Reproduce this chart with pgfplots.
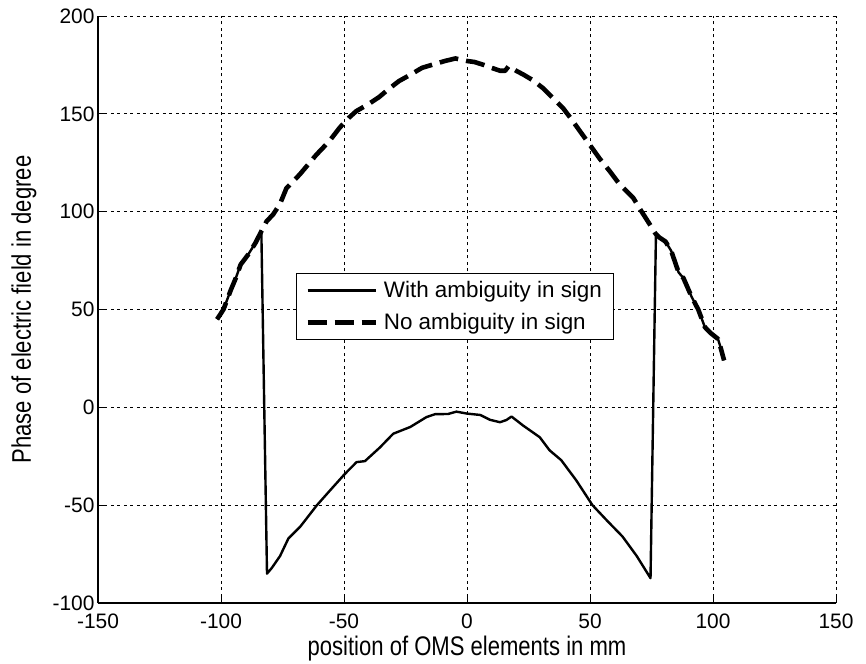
\documentclass[border=0pt]{standalone}
\usepackage{pgfplots}
\pgfplotsset{compat=1.18}
\usepackage{fontspec}
\setmainfont{Liberation Sans}
\newfontfamily\labelfont{Liberation Sans}[FakeStretch=0.82]
\begin{document}
\begin{tikzpicture}
\begin{axis}[
  scale only axis,
  width=738bp, height=587bp,
  xmin=-150, xmax=150, ymin=-100, ymax=200,
  xtick={-150,-100,...,150},
  ytick={-100,-50,...,200},
  axis x line*=bottom, axis y line*=left,
  axis line style={line width=1.1bp, -},
  tick align=inside,
  major tick length=6bp,
  tick style={line width=0.9bp, black},
  grid=major,
  major grid style={dash pattern=on 3bp off 3.5bp, line width=0.8bp, black},
  /pgf/number format/assume math mode=true,
  ticklabel style={font=\fontsize{21}{24}\selectfont},
  xticklabel style={yshift=-7bp},
  xlabel={position of OMS elements in mm},
  ylabel={Phase of electric field in degree},
  xlabel style={font=\labelfont\fontsize{27}{30}\selectfont, at={(axis description cs:0.5,-0.0886)}, anchor=base},
  ylabel style={font=\labelfont\fontsize{27}{30}\selectfont, at={(axis description cs:-0.1003,0.5)}, anchor=center},
  legend style={at={(axis description cs:0.268,0.562)}, anchor=north west, draw=black, line width=1bp,
    font=\fontsize{22.5}{25}\selectfont, inner xsep=9bp, inner ysep=5bp, row sep=8bp,
    nodes={inner sep=3bp},
    /tikz/every odd column/.append style={column sep=3bp}},
  legend cell align=left,
  legend image code/.code={\draw[#1] (0bp,0bp) -- (68bp,0bp);},
]
\addplot[black, line width=2.4bp, line join=round] coordinates {
(-101.6,45) (-99,50) (-96,60) (-94,66) (-92,73) (-89,78) (-86,84) (-83.6,90)
(-81.3,-85) (-79.3,-82) (-76,-76) (-72.6,-67) (-67.8,-61) (-61,-50) (-55.7,-42.5)
(-50,-34.5) (-44.9,-28) (-41.5,-27.5) (-35.4,-20.5) (-30,-13.5) (-23,-10) (-16.5,-5)
(-13,-3.5) (-7.7,-3.4) (-4.3,-2.2) (0,-3.2) (5.4,-3.9) (9.4,-6.4) (13.4,-7.6) (16,-6.5)
(18.1,-4.7) (22.8,-9.3) (29.6,-15.3) (33.6,-22) (38.3,-27) (44.4,-37.3) (51,-50)
(57,-58) (63.2,-66) (69,-76) (74.6,-87.3)
(76.8,88) (78,87) (80.7,84.7) (83,80) (86,69) (88,66) (91.3,56.5) (94,50) (96.7,41)
(99,38) (102,35) (103,31) (104.5,24)
};
\addlegendentry{With ambiguity in sign}
\addplot[black, line width=4.6bp, dash pattern=on 19bp off 8bp, line join=round] coordinates {
(-101.6,45) (-99,50) (-96,60) (-94,66) (-92,73) (-89,78) (-86,84) (-84,89)
(-81.5,95) (-78.8,98.6) (-76,104) (-73.4,112) (-68,119) (-61.3,129) (-56,136)
(-51.7,143) (-48,148) (-45,151.4) (-40,155) (-35.8,158.5) (-32,162.5) (-27.7,166.7)
(-23,170) (-18.3,173.5) (-13,175.5) (-9,177) (-4.7,178.3) (0,177) (3,176.5) (6.8,175)
(10,173.5) (13.5,172) (15.5,172) (16.9,174.3) (20,172) (23,170) (27,167) (31,163)
(35,158) (39,153) (42,148) (46,141) (50,134) (54,127) (58,120.7) (62,114) (67.6,107)
(71,100) (74.3,93.5) (76.5,89) (78,87) (80.7,84.7) (83,80) (86,69) (88,66) (91.3,56.5)
(94,50) (96.7,41) (99,38) (102,35) (103,31) (104.5,24)
};
\addlegendentry{No ambiguity in sign}
\end{axis}
\pgfresetboundingbox
\path ([shift={(-98bp,-61bp)}]current axis.south west) rectangle ([shift={(30bp,16bp)}]current axis.north east);
\end{tikzpicture}
\end{document}
